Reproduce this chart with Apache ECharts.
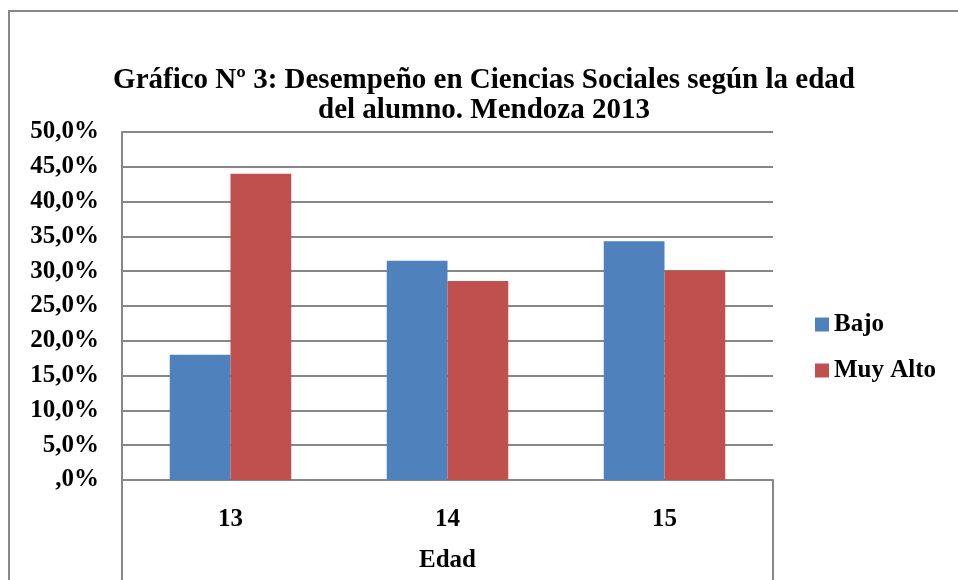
<!DOCTYPE html>
<html>
<head>
<meta charset="utf-8">
<script src="https://cdn.jsdelivr.net/npm/echarts@6/dist/echarts.min.js"></script>
<style>
  html, body { margin: 0; padding: 0; background: #fff; }
  #chart { width: 958px; height: 580px; }
</style>
</head>
<body>
<div id="chart"></div>
<script>
// datos del gráfico (porcentajes por edad)
var categories = ['13', '14', '15']
var bajo = [18.0, 31.5, 34.3]
var muyAlto = [44.0, 28.6, 30.1]
var yTickLabels = [',0%', '5,0%', '10,0%', '15,0%', '20,0%', '25,0%', '30,0%', '35,0%', '40,0%', '45,0%', '50,0%']

var font = '"Liberation Serif", "Times New Roman", serif'
var lineColor = '#878787'

// área del gráfico
var gLeft = 122, gRight = 773, gTop = 132, gBottom = 480

var chart = echarts.init(document.getElementById('chart'))
chart.setOption({
  animation: false,
  textStyle: { fontFamily: font },
  title: {
    text: 'Gráfico Nº 3: Desempeño en Ciencias Sociales según la edad\ndel alumno. Mendoza 2013',
    left: 479,
    textAlign: 'center',
    top: 61,
    textStyle: {
      fontFamily: font,
      fontSize: 29,
      fontWeight: 'bold',
      color: '#000',
      lineHeight: 30
    }
  },
  grid: {
    left: gLeft,
    right: 958 - gRight,
    top: gTop,
    bottom: 580 - gBottom,
    outerBoundsMode: 'none',
    containLabel: false
  },
  legend: {
    orient: 'vertical',
    left: 810,
    top: 307,
    itemWidth: 14,
    itemHeight: 14,
    itemGap: 21,
    icon: 'rect',
    textStyle: {
      fontFamily: font,
      fontSize: 25,
      fontWeight: 'bold',
      color: '#000'
    },
    data: ['Bajo', 'Muy Alto']
  },
  xAxis: {
    type: 'category',
    data: categories,
    name: 'Edad',
    nameLocation: 'middle',
    nameGap: 68,
    nameTextStyle: { fontFamily: font, fontSize: 25, fontWeight: 'bold', color: '#000' },
    axisLine: { lineStyle: { color: lineColor, width: 2 } },
    axisTick: { show: false },
    axisLabel: { fontFamily: font, fontSize: 25, fontWeight: 'bold', color: '#000', margin: 27 }
  },
  yAxis: {
    type: 'value',
    min: 0,
    max: 50,
    interval: 5,
    axisLine: { show: true, lineStyle: { color: lineColor, width: 2 } },
    axisTick: { show: false },
    splitLine: { lineStyle: { color: lineColor, width: 2 } },
    axisLabel: {
      fontFamily: font,
      fontSize: 25,
      fontWeight: 'bold',
      color: '#000',
      margin: 23,
      formatter: function (v) { return yTickLabels[Math.round(v / 5)] }
    }
  },
  series: [
    {
      name: 'Bajo',
      type: 'bar',
      data: bajo,
      barWidth: '28%',
      barGap: '0%',
      itemStyle: { color: '#4F81BD' }
    },
    {
      name: 'Muy Alto',
      type: 'bar',
      data: muyAlto,
      barWidth: '28%',
      barGap: '0%',
      itemStyle: { color: '#C0504D' }
    }
  ],
  graphic: [
    // marco exterior
    { type: 'rect', shape: { x: 9, y: 11, width: 1000, height: 1000 }, style: { fill: null, stroke: lineColor, lineWidth: 2 } },
    // líneas del eje de categorías bajo el área
    { type: 'line', shape: { x1: gLeft, y1: gBottom, x2: gLeft, y2: 580 }, style: { stroke: lineColor, lineWidth: 2 } },
    { type: 'line', shape: { x1: gRight, y1: gBottom, x2: gRight, y2: 580 }, style: { stroke: lineColor, lineWidth: 2 } }
  ]
})
</script>
</body>
</html>
